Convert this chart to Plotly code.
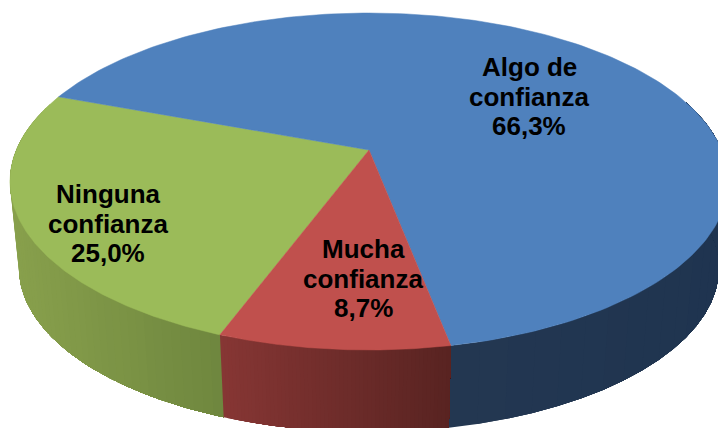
import numpy as np
import plotly.graph_objects as go

# Data, in drawing order (clockwise on screen)
categories = ["Ninguna\nconfianza", "Algo de\nconfianza", "Mucha\nconfianza"]
values = [25.0, 66.3, 8.7]
value_labels = ["25,0%", "66,3%", "8,7%"]

# Styling
top_colors = ["#9BBB59", "#4F81BD", "#C0504D"]
side_left = [(136, 160, 76), (35, 55, 81), (134, 54, 52)]
side_right = [(110, 134, 62), (31, 52, 80), (88, 35, 33)]
label_xy = [(108, 194), (529, 67), (363, 249)]
LINE_PITCH = 29.5
FONT_SIZE = 26

# Pie geometry (perspective projection of a tilted disc)
CX, CY = 369.0, 150.0
A, B, K = 352.7, 162.6, 0.187
DEPTH, BOTTOM_SCALE = 87.0, 0.975
START_DEG = 20.4


def project(theta, bottom=False):
    X, Y = -np.sin(theta), np.cos(theta)
    w = 1 - K * Y
    s = BOTTOM_SCALE if bottom else 1.0
    return CX + s * A * X / w, CY + s * B * Y / w + (DEPTH if bottom else 0.0)


fig = go.Figure()
total = sum(values)
edges = np.radians(START_DEG) + np.concatenate([[0], np.cumsum(values)]) / total * 2 * np.pi

# Side wall: each band runs to the slice's far edge and is overpainted by the next
for i in range(len(values)):
    ths = np.linspace(edges[i], edges[i + 1], 60)
    front = ths[np.cos(ths) > -0.32]
    if len(front) < 2:
        continue
    xmin, xmax = project(front)[0].min(), project(front)[0].max()
    order = front if project(front)[0][0] <= project(front)[0][-1] else front[::-1]
    for k in range(len(order) - 1):
        tt = order[k:]
        xt, yt = project(tt)
        xb, yb = project(tt, bottom=True)
        mid = (xt[0] - xmin) / max(xmax - xmin, 1)
        c = [round(l + (r - l) * mid) for l, r in zip(side_left[i], side_right[i])]
        col = f"rgb({c[0]},{c[1]},{c[2]})"
        fig.add_trace(go.Scatter(x=np.r_[xt, xb[::-1], xt[0]], y=np.r_[yt, yb[::-1], yt[0]],
                                 mode="lines", fill="toself", fillcolor=col,
                                 line=dict(color=col, width=0), hoverinfo="skip", showlegend=False))

# Top face
for i, name in enumerate(categories):
    ths = np.linspace(edges[i], edges[i + 1], 200)
    xs, ys = project(ths)
    fig.add_trace(go.Scatter(x=np.r_[CX, xs, CX], y=np.r_[CY, ys, CY], mode="lines",
                             fill="toself", fillcolor=top_colors[i],
                             line=dict(color=top_colors[i], width=0.5),
                             name=name.replace("\n", " "), showlegend=False,
                             hovertemplate=name.replace("\n", " ") + ": " + value_labels[i] + "<extra></extra>"))

# Labels (one annotation per line to control the line pitch)
for i, name in enumerate(categories):
    lines = name.split("\n") + [value_labels[i]]
    for j, line in enumerate(lines):
        fig.add_annotation(x=label_xy[i][0], y=label_xy[i][1] + j * LINE_PITCH, text=f"<b>{line}</b>",
                           showarrow=False, xanchor="center", yanchor="middle",
                           font=dict(family="Liberation Sans", size=FONT_SIZE, color="#000000"))

fig.update_layout(width=718, height=428, margin=dict(l=0, r=0, t=0, b=0, pad=0),
                  paper_bgcolor="white", plot_bgcolor="white", showlegend=False,
                  xaxis=dict(range=[0, 718], visible=False, fixedrange=True),
                  yaxis=dict(range=[428, 0], visible=False, fixedrange=True))
fig.write_html("out.html", config=dict(displayModeBar=False),
               post_script="document.body.style.margin='0';document.body.style.overflow='hidden';")
